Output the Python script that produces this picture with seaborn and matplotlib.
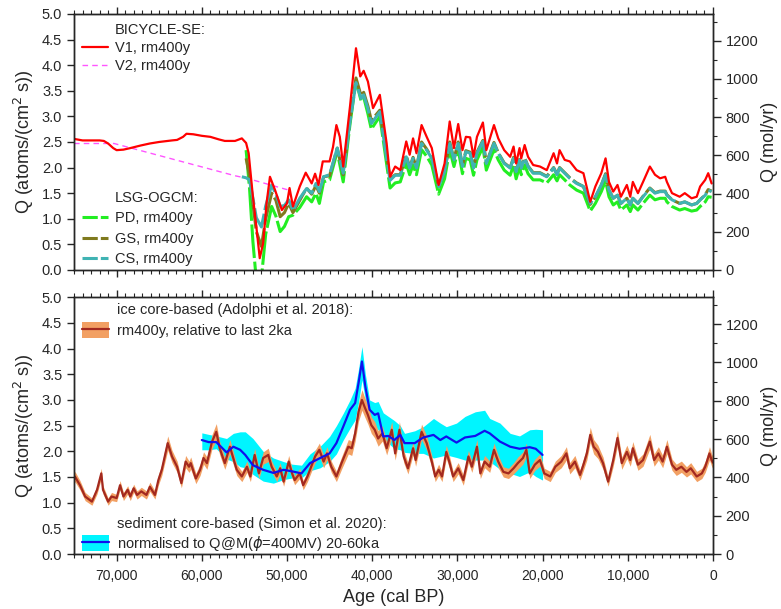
import numpy as np
import matplotlib
matplotlib.use("Agg")
import matplotlib.pyplot as plt
import seaborn as sns
from matplotlib.lines import Line2D
from matplotlib.patches import Patch
from matplotlib.ticker import MultipleLocator, FuncFormatter

# ---------------- data (ages in ka BP, Q in atoms/(cm^2 s)) ----------------
# BICYCLE-SE V1, rm400y
v1_age = [75.0, 74.0, 73.0, 72.0, 71.5, 71.0, 70.4, 70.0, 69.2, 68.4,
          67.2, 66.1, 65.0, 63.5, 62.9, 62.2, 61.8, 61.0, 60.0, 59.0,
          58.0, 57.3, 56.1, 55.3, 54.8, 54.5, 54.0, 53.6, 53.2, 52.8,
          52.4, 52.0, 51.4, 50.6, 50.0, 49.7, 49.3, 48.5, 47.8, 47.1,
          46.7, 46.3, 45.8, 45.0, 44.6, 44.2, 43.8, 43.4, 42.6, 41.9,
          41.4, 41.0, 40.5, 39.9, 39.1, 38.3, 37.9, 37.3, 36.7, 36.0,
          35.6, 35.2, 34.8, 34.2, 33.6, 33.0, 32.2, 31.5, 30.9, 30.4,
          29.9, 29.4, 29.0, 28.5, 28.1, 27.7, 27.0, 26.6, 25.7, 25.2,
          24.5, 23.8, 23.4, 23.1, 22.7, 22.5, 22.1, 21.7, 21.1, 20.3,
          19.5, 18.7, 18.3, 18.0, 17.4, 16.8, 16.0, 15.2, 14.4, 13.8,
          13.1, 12.6, 12.2, 11.7, 11.2, 10.8, 10.1, 9.7, 9.4, 8.8,
          8.2, 7.4, 6.8, 6.2, 5.6, 5.4, 4.8, 3.9, 3.3, 2.5,
          1.9, 1.5, 0.9, 0.55, 0.15]
v1_q = [2.56, 2.53, 2.53, 2.53, 2.52, 2.47, 2.38, 2.34, 2.35, 2.38,
        2.43, 2.47, 2.50, 2.53, 2.54, 2.60, 2.66, 2.65, 2.62, 2.60,
        2.55, 2.52, 2.52, 2.57, 2.48, 2.28, 1.43, 0.85, 0.23, 0.52,
        1.30, 1.82, 1.56, 1.17, 1.30, 1.60, 1.24, 1.63, 1.90, 1.69,
        1.88, 1.66, 2.12, 2.12, 2.40, 2.83, 2.60, 2.02, 3.20, 4.33,
        3.78, 3.89, 3.68, 3.16, 3.42, 2.47, 1.82, 2.02, 1.95, 2.51,
        2.25, 2.57, 2.28, 2.83, 2.60, 2.38, 1.66, 2.08, 2.90, 2.38,
        2.85, 2.34, 2.60, 2.59, 2.21, 2.60, 2.88, 2.34, 2.83, 2.57,
        2.34, 2.21, 2.41, 2.08, 2.38, 2.18, 2.44, 2.21, 2.05, 2.02,
        1.95, 2.28, 2.08, 2.34, 2.15, 2.12, 1.95, 1.89, 1.33, 1.63,
        1.89, 2.18, 1.72, 1.53, 1.66, 1.43, 1.66, 1.43, 1.72, 1.50,
        1.72, 2.02, 1.86, 1.79, 1.82, 1.72, 1.50, 1.43, 1.50, 1.40,
        1.43, 1.63, 1.76, 1.89, 1.69]

# BICYCLE-SE V2, rm400y
v2_age = [75.0, 70.3, 56.1, 54.7, 49.8]
v2_q = [2.47, 2.47, 1.84, 1.79, 1.56]

# LSG-OGCM runs (PD, GS, CS), rm400y
ogcm_age = [55.3, 54.8, 54.4, 54.0, 53.6, 53.0, 52.5, 51.8, 51.3, 50.8,
            50.3, 49.8, 49.3, 48.5, 47.7, 47.1, 46.6, 46.2, 45.7, 45.0,
            44.1, 43.4, 42.6, 41.9, 41.3, 41.0, 40.5, 40.1, 39.1, 38.5,
            37.9, 37.3, 36.7, 36.0, 35.6, 35.2, 34.8, 34.2, 33.6, 33.0,
            32.2, 31.5, 30.9, 30.4, 29.9, 29.4, 29.0, 28.5, 28.1, 27.7,
            27.0, 26.6, 25.7, 25.2, 24.5, 23.8, 23.4, 23.1, 22.7, 22.5,
            22.1, 21.7, 21.1, 20.3, 19.5, 18.7, 18.3, 18.0, 17.4, 16.8,
            16.0, 15.2, 14.4, 13.8, 13.1, 12.6, 12.2, 11.7, 11.2, 10.8,
            10.1, 9.7, 9.4, 8.8, 8.2, 7.4, 6.8, 6.2, 5.6, 5.4,
            4.8, 3.9, 3.3, 2.5, 1.9, 1.5, 0.9, 0.55, 0.15]
pd_q = [np.nan, 2.34, 1.60, 0.55, -0.20, -0.15, 0.70, 1.24, 1.05, 0.75,
        0.85, 1.04, 1.07, 1.22, 1.43, 1.33, 1.50, 1.30, 1.72, 1.76,
        2.31, 1.72, 2.85, 3.70, 3.30, 3.38, 3.05, 2.75, 3.00, 2.30,
        1.60, 1.70, 1.72, 2.08, 1.86, 2.05, 1.86, 2.35, 2.22, 2.05,
        1.48, 1.78, 2.35, 2.02, 2.35, 1.88, 2.18, 2.15, 1.85, 2.15,
        2.40, 1.95, 2.35, 2.15, 1.95, 1.85, 2.05, 1.78, 2.02, 1.86,
        2.05, 1.88, 1.76, 1.76, 1.70, 1.86, 1.74, 1.86, 1.76, 1.66,
        1.56, 1.50, 1.15, 1.30, 1.53, 1.74, 1.43, 1.27, 1.33, 1.17,
        1.27, 1.14, 1.27, 1.17, 1.30, 1.46, 1.37, 1.40, 1.40, 1.33,
        1.24, 1.17, 1.20, 1.15, 1.17, 1.24, 1.33, 1.43, 1.42]
gs_q = [np.nan, 2.18, 1.85, 1.30, 0.75, 0.46, 1.00, 1.50, 1.36, 1.04,
        1.12, 1.30, 1.12, 1.36, 1.60, 1.48, 1.65, 1.50, 1.82, 1.84,
        2.38, 1.86, 2.95, 3.75, 3.40, 3.47, 3.20, 2.92, 3.12, 2.45,
        1.77, 1.86, 1.86, 2.24, 2.00, 2.20, 2.00, 2.50, 2.36, 2.19,
        1.63, 1.93, 2.50, 2.16, 2.50, 2.03, 2.33, 2.30, 2.00, 2.30,
        2.53, 2.09, 2.49, 2.29, 2.09, 2.00, 2.20, 1.93, 2.16, 2.00,
        2.19, 2.03, 1.90, 1.90, 1.83, 2.00, 1.87, 2.00, 1.90, 1.80,
        1.70, 1.63, 1.28, 1.42, 1.66, 1.88, 1.56, 1.40, 1.46, 1.30,
        1.40, 1.27, 1.40, 1.30, 1.44, 1.60, 1.51, 1.54, 1.54, 1.47,
        1.37, 1.30, 1.33, 1.27, 1.30, 1.37, 1.47, 1.57, 1.54]
cs_q = [1.82, 1.80, 1.76, 1.40, 1.02, 0.84, 1.25, 1.66, 1.48, 1.24,
        1.26, 1.37, 1.16, 1.40, 1.59, 1.50, 1.69, 1.53, 1.82, 1.86,
        2.38, 1.89, 2.90, 3.66, 3.35, 3.42, 3.15, 2.86, 3.09, 2.40,
        1.75, 1.85, 1.85, 2.21, 1.99, 2.18, 1.99, 2.47, 2.34, 2.18,
        1.63, 1.92, 2.47, 2.15, 2.47, 2.02, 2.31, 2.28, 1.99, 2.28,
        2.51, 2.08, 2.47, 2.28, 2.08, 1.99, 2.18, 1.92, 2.15, 1.99,
        2.18, 2.02, 1.89, 1.89, 1.82, 1.99, 1.86, 1.99, 1.89, 1.79,
        1.69, 1.63, 1.30, 1.43, 1.66, 1.86, 1.56, 1.40, 1.46, 1.30,
        1.40, 1.27, 1.40, 1.30, 1.43, 1.59, 1.50, 1.53, 1.53, 1.46,
        1.37, 1.30, 1.33, 1.27, 1.30, 1.37, 1.46, 1.56, 1.53]

# ice core-based (Adolphi et al. 2018), rm400y, relative to last 2ka
ice_age = [75.0, 74.9, 74.3, 73.7, 72.9, 72.3, 71.8, 71.6, 71.0, 70.6,
           70.0, 69.6, 69.2, 68.7, 68.4, 68.0, 67.6, 67.1, 66.5, 66.1,
           65.5, 65.1, 64.7, 64.0, 63.5, 62.9, 62.4, 61.9, 61.5, 61.3,
           60.7, 60.2, 59.8, 59.4, 58.8, 58.3, 57.9, 57.3, 56.7, 55.9,
           55.3, 54.7, 54.3, 53.8, 53.3, 52.8, 52.2, 51.8, 51.2, 50.8,
           50.4, 49.8, 49.4, 49.1, 48.5, 48.1, 47.6, 47.1, 46.7, 46.2,
           45.7, 45.3, 44.8, 44.2, 43.6, 43.2, 42.8, 42.4, 42.0, 41.6,
           41.2, 40.9, 40.5, 40.1, 39.7, 39.3, 38.8, 38.3, 37.7, 37.3,
           36.8, 36.3, 35.8, 35.2, 34.9, 34.2, 33.6, 33.0, 32.6, 32.2,
           31.8, 31.3, 30.9, 30.5, 29.9, 29.3, 28.7, 28.3, 27.7, 27.3,
           26.8, 26.2, 25.7, 25.2, 24.6, 24.0, 23.4, 22.9, 22.3, 21.9,
           21.5, 20.9, 20.3, 19.8, 19.1, 18.5, 17.8, 17.2, 16.8, 16.2,
           15.6, 15.2, 14.8, 14.4, 14.0, 13.5, 12.9, 12.3, 11.7, 11.2,
           10.7, 10.1, 9.7, 9.4, 8.8, 8.2, 7.4, 6.9, 6.4, 5.9,
           5.4, 4.8, 4.3, 3.7, 3.1, 2.6, 1.9, 1.3, 0.9, 0.4,
           0.15, 0.0]
ice_q = [1.45, 1.51, 1.34, 1.12, 1.02, 1.25, 1.57, 1.25, 1.02, 1.12,
         1.09, 1.34, 1.12, 1.25, 1.12, 1.28, 1.15, 1.22, 1.15, 1.31,
         1.15, 1.44, 1.64, 2.16, 1.90, 1.70, 1.38, 1.80, 1.70, 1.77,
         1.47, 1.64, 1.87, 1.77, 2.19, 2.38, 2.06, 1.77, 2.09, 1.64,
         1.51, 1.70, 1.51, 1.93, 1.57, 1.87, 1.93, 1.70, 1.51, 1.67,
         1.41, 1.80, 1.57, 1.44, 1.57, 1.34, 1.51, 1.73, 1.90, 2.03,
         1.80, 1.96, 1.70, 1.51, 1.77, 1.93, 2.09, 2.06, 2.35, 2.77,
         3.00, 2.87, 2.71, 2.51, 2.42, 2.25, 2.35, 2.06, 2.42, 1.96,
         2.42, 1.90, 1.67, 2.06, 1.83, 2.38, 2.16, 1.80, 1.51, 1.64,
         1.51, 1.99, 1.77, 1.51, 1.67, 1.44, 1.90, 1.70, 2.09, 1.57,
         1.80, 1.70, 2.03, 1.80, 1.60, 1.57, 1.67, 1.77, 1.87, 2.03,
         1.57, 1.74, 1.83, 1.57, 1.51, 1.70, 1.80, 1.96, 1.67, 1.80,
         1.54, 1.74, 1.96, 2.32, 2.09, 1.99, 1.77, 1.41, 1.83, 2.26,
         1.77, 1.99, 1.83, 2.06, 1.74, 1.83, 2.19, 1.83, 1.96, 1.80,
         2.09, 1.74, 1.64, 1.70, 1.60, 1.67, 1.51, 1.57, 1.70, 1.96,
         1.83, 1.78]
ice_err = [0.10, 0.10, 0.09, 0.08, 0.07, 0.08, 0.10, 0.08, 0.07, 0.08,
           0.07, 0.09, 0.08, 0.08, 0.08, 0.08, 0.08, 0.08, 0.08, 0.09,
           0.08, 0.10, 0.11, 0.14, 0.12, 0.11, 0.09, 0.12, 0.11, 0.12,
           0.10, 0.11, 0.12, 0.12, 0.14, 0.16, 0.13, 0.12, 0.14, 0.11,
           0.10, 0.11, 0.10, 0.13, 0.10, 0.12, 0.13, 0.11, 0.10, 0.11,
           0.09, 0.12, 0.10, 0.09, 0.10, 0.09, 0.10, 0.11, 0.12, 0.13,
           0.12, 0.13, 0.11, 0.10, 0.12, 0.13, 0.14, 0.14, 0.15, 0.18,
           0.20, 0.19, 0.18, 0.16, 0.16, 0.15, 0.15, 0.13, 0.16, 0.13,
           0.16, 0.12, 0.11, 0.13, 0.12, 0.15, 0.14, 0.12, 0.10, 0.11,
           0.10, 0.13, 0.12, 0.10, 0.11, 0.10, 0.12, 0.11, 0.14, 0.10,
           0.12, 0.11, 0.13, 0.12, 0.10, 0.10, 0.11, 0.12, 0.12, 0.13,
           0.10, 0.11, 0.12, 0.10, 0.10, 0.11, 0.12, 0.13, 0.11, 0.12,
           0.10, 0.11, 0.13, 0.15, 0.14, 0.13, 0.12, 0.09, 0.12, 0.15,
           0.12, 0.13, 0.12, 0.13, 0.11, 0.12, 0.14, 0.12, 0.13, 0.12,
           0.14, 0.11, 0.11, 0.11, 0.10, 0.11, 0.10, 0.10, 0.11, 0.13,
           0.12, 0.12]

# sediment core-based (Simon et al. 2020), normalised 20-60ka
sed_age = [60.0, 59.2, 58.3, 57.1, 56.3, 55.5, 54.9, 54.0, 52.8, 51.6,
           50.4, 49.4, 48.3, 47.3, 46.1, 45.0, 44.2, 43.4, 42.6, 42.0,
           41.6, 41.2, 40.8, 40.3, 39.7, 39.3, 38.7, 38.1, 37.4, 36.7,
           36.2, 35.0, 34.0, 32.8, 32.0, 31.3, 30.1, 29.1, 27.9, 26.8,
           26.2, 25.0, 23.8, 22.7, 21.5, 20.8, 20.0]
sed_q = [2.22, 2.18, 2.18, 1.98, 2.09, 2.03, 1.93, 1.73, 1.64, 1.58,
         1.64, 1.61, 1.57, 1.77, 1.87, 1.96, 2.16, 2.48, 2.81, 2.94,
         3.33, 3.75, 3.26, 2.81, 2.71, 2.74, 2.29, 2.30, 2.22, 2.32,
         2.16, 2.16, 2.27, 2.32, 2.22, 2.29, 2.17, 2.27, 2.30, 2.40,
         2.35, 2.19, 2.09, 2.05, 2.08, 2.05, 1.93]
sed_hi = [2.36, 2.33, 2.30, 2.25, 2.35, 2.38, 2.38, 2.25, 2.00, 1.87,
          1.80, 1.75, 1.73, 1.95, 2.10, 2.29, 2.50, 2.74, 3.00, 3.23,
          3.60, 4.04, 3.50, 3.00, 2.95, 2.97, 2.75, 2.68, 2.60, 2.50,
          2.35, 2.40, 2.48, 2.64, 2.55, 2.48, 2.55, 2.68, 2.77, 2.80,
          2.64, 2.55, 2.35, 2.30, 2.42, 2.43, 2.42]
sed_lo = [2.03, 2.03, 2.05, 1.85, 1.80, 1.70, 1.68, 1.55, 1.42, 1.38,
          1.45, 1.48, 1.48, 1.62, 1.68, 1.80, 1.95, 2.22, 2.45, 2.61,
          2.95, 3.39, 3.00, 2.61, 2.50, 2.42, 2.20, 2.16, 2.05, 2.03,
          1.98, 1.96, 1.96, 1.87, 1.90, 1.93, 1.88, 1.83, 1.83, 1.83,
          1.80, 1.65, 1.57, 1.51, 1.60, 1.51, 1.44]

# right-axis scale: mol/yr at Q = 5 atoms/(cm^2 s)
MOL_AT_TOP = 1340

# ---------------- style ----------------
sns.set_style("ticks")
plt.rcParams['font.family'] = ['Liberation Sans', 'DejaVu Sans']

RED = '#ff0000'
MAGENTA = '#ff55ff'
PD_C = '#22ee22'
GS_C = '#7f7a1e'
CS_C = '#3fb3b3'
ORANGE = '#f2a063'
BROWN = '#a3291f'
CYAN = '#00f5ff'
BLUE = '#1010ee'

DASH_DATA = (0, (11, 1.2))
DASH_LEG = (0, (5, 1.0))


def yrs(a):
    return np.array(a) * 1000.0


def style_axes(ax, bottom_labels):
    ax.set_xlim(75000, 0)
    ax.set_ylim(0, 5)
    ax.xaxis.set_major_locator(MultipleLocator(10000))
    ax.xaxis.set_minor_locator(MultipleLocator(1000))
    ax.yaxis.set_major_locator(MultipleLocator(0.5))
    ax.yaxis.set_major_formatter(FuncFormatter(lambda v, p: f"{v:.1f}"))
    ax.xaxis.set_major_formatter(FuncFormatter(lambda v, p: f"{int(v):,}"))
    ax.tick_params(axis='x', which='major', direction='out', length=5, width=1,
                   top=True, bottom=True, labelsize=10, labelbottom=bottom_labels, pad=6)
    ax.tick_params(axis='x', which='minor', direction='out', length=3, width=0.8,
                   top=True, bottom=True)
    ax.tick_params(axis='y', which='major', direction='out', length=5, width=1,
                   left=True, right=False, labelsize=10.5)
    for s in ax.spines.values():
        s.set_linewidth(1)
        s.set_color('black')
    ax.set_ylabel('Q (atoms/(cm$^2$ s))', fontsize=13)
    axr = ax.twinx()
    axr.set_ylim(0, MOL_AT_TOP)
    axr.yaxis.set_major_locator(MultipleLocator(200))
    axr.yaxis.set_minor_locator(MultipleLocator(100))
    axr.tick_params(axis='y', which='major', direction='out', length=6, width=1,
                    labelsize=10.5, pad=3)
    axr.tick_params(axis='y', which='minor', direction='out', length=3, width=0.8)
    axr.set_ylabel('Q (mol/yr)', fontsize=13, labelpad=2)
    for s in axr.spines.values():
        s.set_linewidth(1)
    return axr


fig = plt.figure(figsize=(7.81, 6.09), dpi=100)
ax1 = fig.add_axes([0.0948, 0.5567, 0.818, 0.4204])
ax2 = fig.add_axes([0.0948, 0.0903, 0.818, 0.4215])

# ---------------- top panel: model simulations ----------------
sns.lineplot(x=yrs(v2_age), y=v2_q, ax=ax1, color=MAGENTA, linewidth=1.0,
             linestyle=(0, (4, 3)), sort=False, estimator=None)
sns.lineplot(x=yrs(ogcm_age), y=pd_q, ax=ax1, color=PD_C, linewidth=2.2,
             linestyle=DASH_DATA, sort=False, estimator=None)
sns.lineplot(x=yrs(ogcm_age), y=gs_q, ax=ax1, color=GS_C, linewidth=2.2,
             linestyle=DASH_DATA, sort=False, estimator=None)
sns.lineplot(x=yrs(ogcm_age), y=cs_q, ax=ax1, color=CS_C, linewidth=2.2,
             linestyle=DASH_DATA, sort=False, estimator=None)
sns.lineplot(x=yrs(v1_age), y=v1_q, ax=ax1, color=RED, linewidth=1.6,
             sort=False, estimator=None)
style_axes(ax1, False)

blank = Line2D([], [], color='none')
leg_a = ax1.legend([blank,
                    Line2D([], [], color=RED, lw=1.6),
                    Line2D([], [], color=MAGENTA, lw=1.0, ls=(0, (4, 3)))],
                   ['BICYCLE-SE:', 'V1, rm400y', 'V2, rm400y'],
                   loc='upper left', bbox_to_anchor=(0.012, 0.963), frameon=False,
                   fontsize=10.5, handlelength=1.8, handletextpad=0.5,
                   labelspacing=0.25, borderpad=0, borderaxespad=0)
ax1.add_artist(leg_a)
ax1.legend([blank,
            Line2D([], [], color=PD_C, lw=2.2, ls=DASH_LEG),
            Line2D([], [], color=GS_C, lw=2.2, ls=DASH_LEG),
            Line2D([], [], color=CS_C, lw=2.2, ls=DASH_LEG)],
           ['LSG-OGCM:', 'PD, rm400y', 'GS, rm400y', 'CS, rm400y'],
           loc='upper left', bbox_to_anchor=(0.012, 0.31), frameon=False,
           fontsize=10.5, handlelength=1.8, handletextpad=0.5,
           labelspacing=0.45, borderpad=0, borderaxespad=0)

# ---------------- bottom panel: reconstructions ----------------
ax2.fill_between(yrs(sed_age), sed_lo, sed_hi, color=CYAN, lw=0)
ice_lo = np.array(ice_q) - np.array(ice_err)
ice_hi = np.array(ice_q) + np.array(ice_err)
ax2.fill_between(yrs(ice_age), ice_lo, ice_hi, color=ORANGE, lw=0)
sns.lineplot(x=yrs(ice_age), y=ice_q, ax=ax2, color=BROWN, linewidth=1.6,
             sort=False, estimator=None)
sns.lineplot(x=yrs(sed_age), y=sed_q, ax=ax2, color=BLUE, linewidth=1.6,
             sort=False, estimator=None)
style_axes(ax2, True)
ax2.set_xlabel('Age (cal BP)', fontsize=13, labelpad=4)

leg_c = ax2.legend([blank, (Patch(facecolor=ORANGE, lw=0), Line2D([], [], color=BROWN, lw=1.6))],
                   ['ice core-based (Adolphi et al. 2018):', 'rm400y, relative to last 2ka'],
                   loc='upper left', bbox_to_anchor=(0.012, 0.985), frameon=False,
                   fontsize=10.5, handlelength=1.9, handleheight=1.3, handletextpad=0.5,
                   labelspacing=0.35, borderpad=0, borderaxespad=0)
ax2.add_artist(leg_c)
ax2.legend([blank, (Patch(facecolor=CYAN, lw=0), Line2D([], [], color=BLUE, lw=1.6))],
           ['sediment core-based (Simon et al. 2020):', 'normalised to Q@M($\\phi$=400MV) 20-60ka'],
           loc='upper left', bbox_to_anchor=(0.012, 0.15), frameon=False,
           fontsize=10.5, handlelength=1.9, handleheight=1.3, handletextpad=0.5,
           labelspacing=0.2, borderpad=0, borderaxespad=0)

fig.savefig('out.png', dpi=100)
